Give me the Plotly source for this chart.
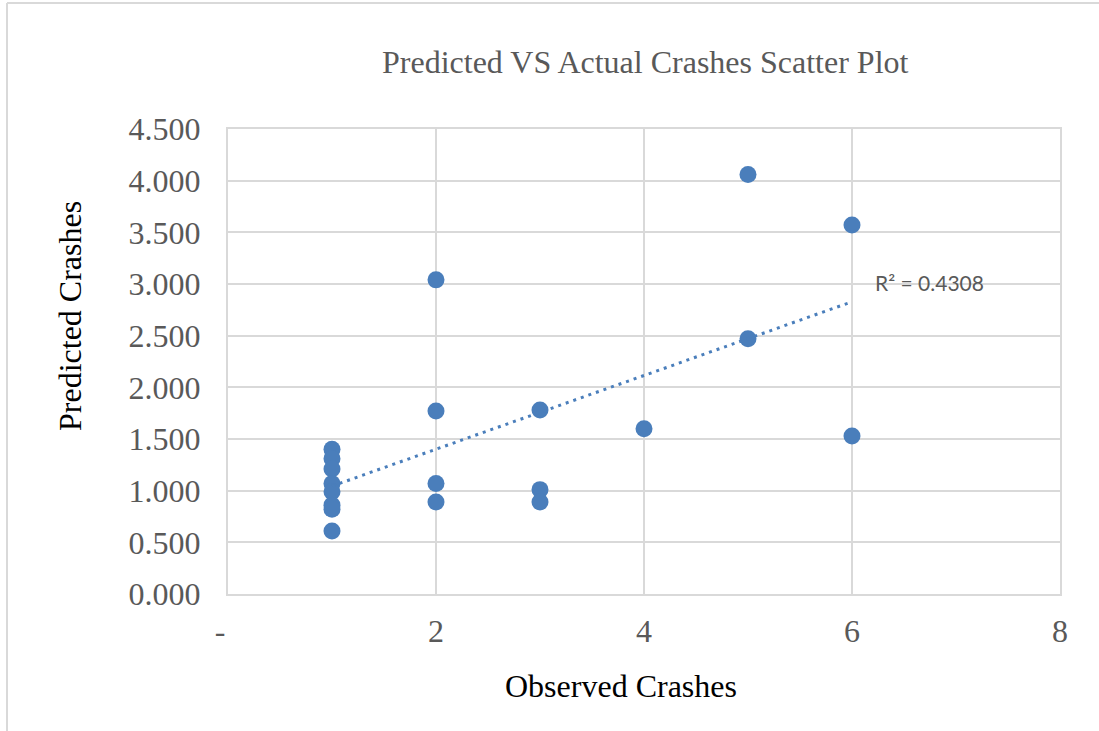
import numpy as np
import plotly.graph_objects as go

# Data
observed = [1, 1, 1, 1, 1, 1, 1, 1,
            2, 2, 2, 2,
            3, 3, 3,
            4,
            5, 5,
            6, 6]
predicted = [1.40, 1.31, 1.21, 1.07, 0.99, 0.86, 0.82, 0.61,
             3.04, 1.77, 1.07, 0.89,
             1.78, 1.01, 0.89,
             1.60,
             4.06, 2.47,
             3.57, 1.53]

x_tickvals = [0, 2, 4, 6, 8]
x_ticktext = ["-\u00a0\u00a0", "2", "4", "6", "8"]
y_tickvals = [0, 0.5, 1.0, 1.5, 2.0, 2.5, 3.0, 3.5, 4.0, 4.5]
y_ticktext = ["0.000", "0.500", "1.000", "1.500", "2.000", "2.500",
              "3.000", "3.500", "4.000", "4.500"]
r2_label = "R\u00b2 = 0.4308"

# Linear trendline from the data (least squares)
xs = np.array(observed, dtype=float)
ys = np.array(predicted, dtype=float)
slope, intercept = np.polyfit(xs, ys, 1)
tx = np.array([xs.min(), xs.max()])
ty = slope * tx + intercept

blue = "#4A7EBB"
grid = "#D9D9D9"
gray_text = "#595959"
serif = "Liberation Serif, Times New Roman, serif"

fig = go.Figure()
fig.add_trace(go.Scatter(x=observed, y=predicted, mode="markers",
                         marker=dict(color=blue, size=17, line=dict(width=0)),
                         showlegend=False, hoverinfo="x+y"))
fig.add_trace(go.Scatter(x=tx, y=ty, mode="lines",
                         line=dict(color=blue, width=3, dash="3px,5px"),
                         showlegend=False, hoverinfo="skip"))

L, R, T, B = 228, 1099 - 1060, 129, 731 - 594
W, H = 1099, 731
pw, ph = W - L - R, H - T - B

def px_x(p):
    return (p - L) / pw

def px_y(p):
    return (H - B - p) / ph

fig.update_layout(
    width=W, height=H,
    margin=dict(l=L, r=R, t=T, b=B, pad=0),
    paper_bgcolor="white", plot_bgcolor="white",
    xaxis=dict(range=[0, 8], tickvals=x_tickvals, ticktext=x_ticktext,
               showgrid=True, gridcolor=grid, gridwidth=2,
               showline=True, linecolor=grid, linewidth=2, mirror=True,
               zeroline=False, ticks="", ticklabelstandoff=8,
               tickfont=dict(family=serif, size=32, color=gray_text)),
    yaxis=dict(range=[0, 4.5], tickvals=y_tickvals, ticktext=y_ticktext,
               showgrid=True, gridcolor=grid, gridwidth=2,
               showline=True, linecolor=grid, linewidth=2, mirror=True,
               zeroline=False, ticks="", ticklabelstandoff=19,
               tickfont=dict(family=serif, size=32, color=gray_text)),
    annotations=[
        dict(text="Predicted VS Actual Crashes Scatter Plot", xref="paper", yref="paper",
             x=px_x(645.5), y=px_y(62), xanchor="center", yanchor="middle",
             showarrow=False, font=dict(family=serif, size=32, color=gray_text)),
        dict(text="Observed Crashes", xref="paper", yref="paper",
             x=px_x(621), y=px_y(686), xanchor="center", yanchor="middle",
             showarrow=False, font=dict(family=serif, size=32, color="black")),
        dict(text="Predicted Crashes", xref="paper", yref="paper",
             x=px_x(70), y=px_y(316), xanchor="center", yanchor="middle",
             textangle=-90, showarrow=False,
             font=dict(family=serif, size=32, color="black")),
        dict(text=r2_label, xref="x", yref="paper",
             x=6.2, y=px_y(282), xanchor="left", yanchor="middle",
             showarrow=False, font=dict(family="Lato, Carlito, sans-serif", size=21, color=gray_text)),
    ],
    shapes=[
        dict(type="line", xref="paper", yref="paper",
             x0=px_x(7), x1=px_x(7), y0=px_y(3), y1=px_y(740),
             line=dict(color=grid, width=2)),
        dict(type="line", xref="paper", yref="paper",
             x0=px_x(7), x1=px_x(1110), y0=px_y(3), y1=px_y(3),
             line=dict(color=grid, width=2)),
    ],
)

fig.write_html("out.html")
